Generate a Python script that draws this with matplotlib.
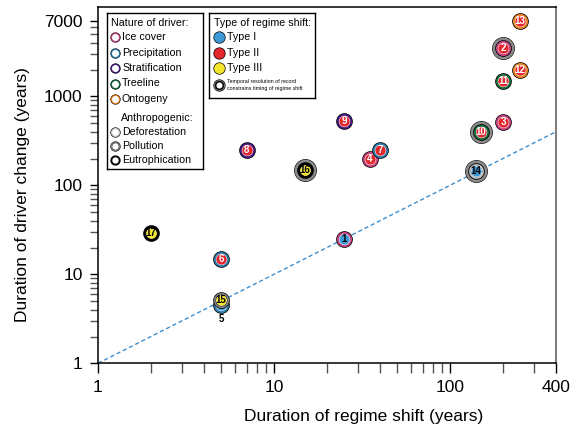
import numpy as np
import matplotlib
matplotlib.use('Agg')
import matplotlib.pyplot as plt
from matplotlib.ticker import FixedLocator, NullFormatter

plt.rcParams['font.family'] = ['Liberation Sans', 'DejaVu Sans']

# ---- data ----
ids = list(range(1, 18))
shift_years = [25, 200, 200, 35, 5, 5, 40, 7, 25, 150, 200, 250, 250, 140, 5, 15, 2]
driver_years = [25, 3500, 520, 200, 4.5, 15, 250, 250, 530, 400, 1500, 2000, 7000, 145, 5.1, 150, 29]
shift_type = ['I', 'II', 'II', 'II', 'I', 'II', 'II', 'II', 'II', 'II', 'II', 'II', 'II', 'I', 'III', 'III', 'III']
driver = ['ice', 'ice', 'ice', 'ice', 'precip', 'precip', 'precip', 'strat', 'strat', 'tree',
          'tree', 'onto', 'onto', 'defor', 'pollu', 'eutro', 'eutro']
coarse = [0, 1, 0, 0, 0, 0, 0, 0, 0, 1, 0, 0, 0, 1, 0, 1, 0]

driver_names = ['Ice cover', 'Precipitation', 'Stratification', 'Treeline', 'Ontogeny']
driver_keys = ['ice', 'precip', 'strat', 'tree', 'onto']
anthro_names = ['Deforestation', 'Pollution', 'Eutrophication']
anthro_keys = ['defor', 'pollu', 'eutro']
type_names = ['Type I', 'Type II', 'Type III']
type_keys = ['I', 'II', 'III']

type_col = {'I': '#3d9ad6', 'II': '#e2262b', 'III': '#f3e42c'}
drv_col = {'ice': '#c2407e', 'precip': '#2a7aa8', 'strat': '#4a1a80',
           'tree': '#146b3a', 'onto': '#e8801e'}
GRAY = '#808080'

W, H = 581, 430


def ring_layers(key, d):
    # concentric circles (diameter in pt, colour), outermost first
    if key in drv_col:
        return [(d, 'black'), (d*0.91, drv_col[key]), (d*0.68, 'white')]
    if key == 'defor':
        return [(d, 'black'), (d*0.92, GRAY), (d*0.82, 'white'), (d*0.75, GRAY), (d*0.68, 'white')]
    if key == 'pollu':
        return [(d, 'black'), (d*0.92, GRAY), (d*0.70, 'black'), (d*0.64, 'white')]
    return [(d, 'black'), (d*0.62, 'white')]


def draw_layers(ax, x, y, layers, z):
    for i, (d, c) in enumerate(layers):
        ax.plot([x], [y], 'o', ms=d, mfc=c, mec='none', zorder=z + i*0.01, clip_on=False)


fig = plt.figure(figsize=(W/100, H/100), dpi=100)
ax = fig.add_axes([98/W, 1-363.3/H, 458/W, 356/H])
ax.set_xscale('log')
ax.set_yscale('log')
ax.set_xlim(1, 400)
ax.set_ylim(1, 10000)

ax.plot([1, 400], [1, 400], ls=(0, (3, 2)), color='#3d8fd0', lw=1, zorder=1)

base = 12.0
for k in range(len(ids)):
    x, y = shift_years[k], driver_years[k]
    z = 5 + k*0.1
    layers = []
    if coarse[k]:
        layers += [(base + 4.4, 'black'), (base + 3.6, '#8a8a8a')]
    layers += ring_layers(driver[k], base)
    layers += [(base*0.62, type_col[shift_type[k]])]
    draw_layers(ax, x, y, layers, z)
    tc = 'white' if shift_type[k] == 'II' else 'black'
    if ids[k] != 5:
        ax.text(x, y, str(ids[k]), color=tc, fontsize=7, fontweight='bold',
                ha='center', va='center', zorder=z + 0.09)
    else:
        ax.annotate('5', (x, y), xytext=(0, -10), textcoords='offset points',
                    fontsize=7, fontweight='bold', ha='center', va='center', zorder=z + 0.09)

# axes styling
ax.xaxis.set_major_locator(FixedLocator([1, 10, 100, 400]))
ax.xaxis.set_minor_locator(FixedLocator([2, 3, 4, 5, 6, 7, 8, 9, 20, 30, 40, 50, 60, 70, 80, 90, 200, 300]))
ax.set_xticklabels(['1', '10', '100', '400'])
ax.yaxis.set_major_locator(FixedLocator([1, 10, 100, 1000, 7000]))
ax.yaxis.set_minor_locator(FixedLocator([2, 3, 4, 5, 6, 7, 8, 9, 20, 30, 40, 50, 60, 70, 80, 90,
                                         200, 300, 400, 500, 600, 700, 800, 900,
                                         2000, 3000, 4000, 5000, 6000]))
ax.set_yticklabels(['1', '10', '100', '1000', '7000'])
ax.xaxis.set_minor_formatter(NullFormatter())
ax.yaxis.set_minor_formatter(NullFormatter())
ax.tick_params(axis='x', which='both', direction='out', length=7, width=1, labelsize=12.5, pad=5)
ax.tick_params(axis='y', which='both', direction='out', length=6, width=1, labelsize=12.5, pad=5)
ax.tick_params(which='minor', color='#555555')
for s in ['left', 'bottom', 'top']:
    ax.spines[s].set_linewidth(1.1)
ax.spines['right'].set_color(GRAY)
ax.spines['right'].set_linewidth(1.5)

fig.text(23/W, 1-195/H, 'Duration of driver change (years)', rotation=90,
         ha='center', va='center', fontsize=12.5)
fig.text(364/W, 1-417/H, 'Duration of regime shift (years)',
         ha='center', va='center', fontsize=12.5)


def box_axes(x0, y0, x1, y1):
    b = fig.add_axes([x0/W, 1-y1/H, (x1-x0)/W, (y1-y0)/H])
    b.set_xlim(x0, x1)
    b.set_ylim(y1, y0)
    b.set_xticks([])
    b.set_yticks([])
    for s in b.spines.values():
        s.set_linewidth(1.0)
    b.set_zorder(10)
    return b


# left legend: nature of driver
lb = box_axes(107, 13, 203, 169)
lb.text(111, 23, 'Nature of driver:', fontsize=7.7, va='center')
for i, (nm, key) in enumerate(zip(driver_names, driver_keys)):
    yy = 37 + i*15.5
    draw_layers(lb, 115, yy, ring_layers(key, 7.4), 5)
    lb.text(122, yy, nm, fontsize=7.7, va='center')
lb.text(121, 118, 'Anthropogenic:', fontsize=7.7, va='center')
for i, (nm, key) in enumerate(zip(anthro_names, anthro_keys)):
    yy = 132 + i*14
    draw_layers(lb, 115, yy, ring_layers(key, 7.4), 5)
    lb.text(122, yy, nm, fontsize=7.7, va='center')

# right legend: type of regime shift
rb = box_axes(209, 13, 315, 98)
rb.text(214, 23, 'Type of regime shift:', fontsize=7.7, va='center')
for i, (nm, key) in enumerate(zip(type_names, type_keys)):
    yy = 37 + i*15.5
    draw_layers(rb, 219, yy, [(8.8, 'black'), (7.8, type_col[key])], 5)
    rb.text(227, yy, nm, fontsize=7.7, va='center')
draw_layers(rb, 219, 85, [(8.8, 'black'), (7.8, '#8a8a8a'), (6.6, 'black'), (4.4, 'white')], 5)
rb.text(227, 82, 'Temporal resolution of record', fontsize=3.8, va='center')
rb.text(227, 88.5, 'constrains timing of regime shift', fontsize=3.8, va='center')

fig.savefig('out.png', dpi=100)
